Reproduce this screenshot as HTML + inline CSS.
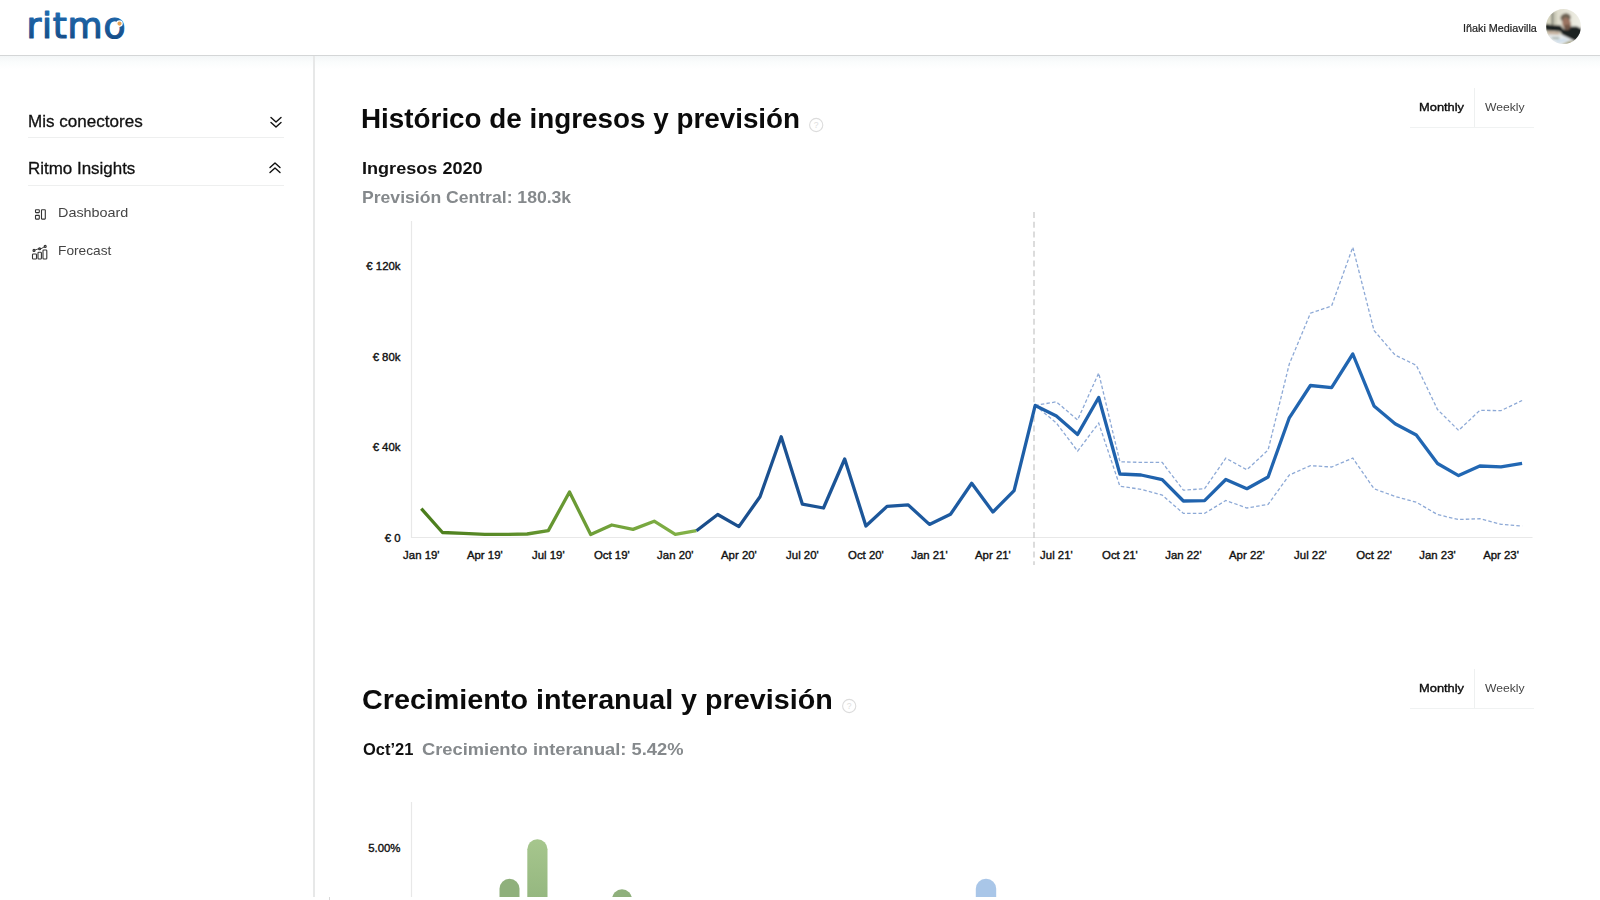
<!DOCTYPE html>
<html lang="es">
<head>
<meta charset="utf-8">
<title>Ritmo Insights</title>
<style>
*{box-sizing:border-box;margin:0;padding:0}
html,body{width:1600px;height:900px;overflow:hidden;background:#fff}
body{position:relative;font-family:"Liberation Sans",sans-serif;color:#111}
.abs{position:absolute;white-space:nowrap;line-height:1;transform-origin:0 0}
.un{color:#222;-webkit-text-stroke:.2px #222}
#header{position:absolute;left:0;top:0;width:1600px;height:56px;background:#fff;border-bottom:1px solid #d4d6d7;z-index:3}
#hshadow{position:absolute;left:0;top:56px;width:1600px;height:13px;background:linear-gradient(#f3f6f7,#fafcfc 45%,#fff);z-index:1}
#sideborder{position:absolute;left:313.2px;top:56px;width:1.8px;height:841px;background:#e7e8e8;z-index:2}
.hr{position:absolute;height:1px;background:#eeefef}
.h1{font-weight:bold;color:#0b0b0b}
.sub{font-weight:bold;color:#111}
.gray{color:#85898c}
.nav{color:#111;-webkit-text-stroke:.3px #111}
.item{color:#444}
.tab{color:#444}
.tab.on{color:#0d0d0d;-webkit-text-stroke:.38px #0d0d0d}
svg{position:absolute;left:0;top:0;overflow:visible}
svg text{font-family:"Liberation Sans",sans-serif}
</style>
</head>
<body>
<div id="header"></div>
<div id="hshadow"></div>
<div id="sideborder"></div>

<!-- logo -->
<svg id="logo" width="160" height="56" viewBox="0 0 160 56" style="z-index:4">
<defs><linearGradient id="lg" x1="0" y1="0" x2="0" y2="1"><stop offset="0" stop-color="#2272b9"/><stop offset="1" stop-color="#12467f"/></linearGradient></defs>
<text x="26.4" y="37.8" letter-spacing="0.75" style="font-family:'DejaVu Sans',sans-serif" font-size="36" fill="url(#lg)" stroke="url(#lg)" stroke-width="1.2" stroke-linejoin="round">ritmo</text>
<circle cx="119.5" cy="23.6" r="2.7" fill="#e8a455" stroke="#fff" stroke-width="1.2"/>
</svg>

<div class="abs un" id="uname" style="left:1462.53px;top:22.86px;font-size:10.8px;transform:scaleX(1.0009);z-index:4;">Iñaki Mediavilla</div>
<svg id="avatar" width="36" height="36" viewBox="0 0 36 36" style="left:1545.9px;top:9.4px;z-index:4">
<defs><clipPath id="ac"><circle cx="17.5" cy="17.6" r="17.5"/></clipPath>
<filter id="ab" x="-10%" y="-10%" width="120%" height="120%"><feGaussianBlur stdDeviation=".85"/></filter>
<linearGradient id="awall" x1="0" y1="0" x2="1" y2="0"><stop offset="0" stop-color="#d2d0b9"/><stop offset=".45" stop-color="#e2e0d2"/><stop offset="1" stop-color="#f1f1ea"/></linearGradient></defs>
<g clip-path="url(#ac)"><g filter="url(#ab)">
<rect x="-2" y="-2" width="40" height="40" fill="url(#awall)"/>
<rect x="5.7" y="3" width="1.6" height="14" fill="#55564e"/>
<rect x="9" y="2" width=".8" height="14" fill="#a5a592"/>
<ellipse cx="19.6" cy="8.6" rx="5.2" ry="4.2" fill="#6d6252" transform="rotate(-12 19.6 8.6)"/>
<ellipse cx="20.6" cy="14.6" rx="4.3" ry="6.2" fill="#9a7361" transform="rotate(-14 20.6 14.6)"/>
<ellipse cx="21.4" cy="18.6" rx="3.4" ry="3" fill="#725849"/>
<path d="M-1 14.8 L6 16 L14.5 16.6 L18 20.4 L22 21.2 L25.5 17.6 L31 17.6 L36 20 L36 29 L29.5 32.2 L16.5 26 L14 22.6 L-1 21.2 Z" fill="#1d2023"/>
<path d="M1.5 22.2 L13.5 23.2 L13.2 25.6 L3 25.2 Z" fill="#c4ab98"/>
<path d="M2 25.5 L13.5 26.2 L16.5 26 L29.5 32.4 L27 36 L4 36 Z" fill="#e7ebee"/>
<path d="M5.4 28.3 L13.6 28.6 L13 30 L6.4 29.8 Z" fill="#8c9b90"/>
<path d="M8 31.4 L19 29.4 L23 31.4 L12 34 Z" fill="#cfdeea"/>
<path d="M15 36 L23.5 31.8 L30 32.4 L28 36 Z" fill="#a8a483"/>
</g></g>
</svg>

<!-- sidebar -->
<div class="abs nav" id="nav1" style="left:28.01px;top:112.78px;font-size:16.5px;transform:scaleX(1.0334);">Mis conectores</div>
<svg width="14" height="14" viewBox="0 0 14 14" style="left:269px;top:115px" fill="none" stroke="#111" stroke-width="1.4" stroke-linecap="round" stroke-linejoin="round"><path d="M2 2.5 L7 7 L12 2.5"/><path d="M2 7.5 L7 12 L12 7.5"/></svg>
<div class="hr" style="left:28px;top:137px;width:256px"></div>
<div class="abs nav" id="nav2" style="left:28.05px;top:160.28px;font-size:16.5px;transform:scaleX(1.0267);">Ritmo Insights</div>
<svg width="14" height="14" viewBox="0 0 14 14" style="left:268px;top:161px" fill="none" stroke="#111" stroke-width="1.4" stroke-linecap="round" stroke-linejoin="round"><path d="M2 6.5 L7 2 L12 6.5"/><path d="M2 11.5 L7 7 L12 11.5"/></svg>
<div class="hr" style="left:28px;top:185px;width:256px"></div>

<svg width="14" height="14" viewBox="0 0 14 14" style="left:34px;top:208px" fill="none" stroke="#333" stroke-width="1.1"><rect x="1.5" y="1.7" width="3.8" height="2.9" rx=".5"/><rect x="1.5" y="7.4" width="3.8" height="3.7" rx=".5"/><rect x="7.5" y="1.7" width="3.8" height="9.4" rx=".5"/></svg>
<div class="abs item" id="it1" style="left:58.12px;top:205.97px;font-size:13.5px;transform:scaleX(1.0651);">Dashboard</div>
<svg width="18" height="16" viewBox="0 0 18 16" style="left:31px;top:244px" fill="none" stroke="#333" stroke-width="1.1"><rect x="1.5" y="10" width="4" height="5" rx=".8"/><rect x="7" y="8.3" width="3.4" height="6.7" rx=".8"/><rect x="12" y="6" width="3.8" height="9" rx=".8"/><path d="M3.5 6.2 L8 4.6 L9.5 5 L13.8 2.6" stroke-width=".9"/><circle cx="3" cy="6.4" r="1"/><circle cx="8.6" cy="4.7" r="1"/><circle cx="14.2" cy="2.4" r="1"/></svg>
<div class="abs item" id="it2" style="left:57.91px;top:243.77px;font-size:13.5px;transform:scaleX(1.0160);">Forecast</div>

<!-- section 1 -->
<div class="abs h1" id="h1a" style="left:361.49px;top:104.72px;font-size:27.5px;transform:scaleX(1.0117);">Histórico de ingresos y previsión</div>
<svg width="16" height="16" viewBox="0 0 16 16" style="left:808px;top:117px"><circle cx="8.2" cy="8" r="6.6" fill="none" stroke="#dcdcdc" stroke-width="1.1"/><text x="8.2" y="10.8" font-size="8.6" text-anchor="middle" fill="#dedede">?</text></svg>
<div class="abs tab on" id="t1a" style="left:1418.57px;top:101.08px;font-size:11.6px;transform:scaleX(1.1099);">Monthly</div>
<div class="abs tab" id="t1b" style="left:1484.54px;top:101.08px;font-size:11.6px;transform:scaleX(1.0451);">Weekly</div>
<div class="abs" style="left:1474px;top:88px;width:1px;height:39px;background:#eef0f0"></div>
<div class="hr" style="left:1410px;top:127px;width:124px;background:#f0f2f2"></div>
<div class="abs sub" id="s1a" style="left:362.26px;top:159.78px;font-size:16.5px;transform:scaleX(1.0961);">Ingresos 2020</div>
<div class="abs sub gray" id="s1b" style="left:362.48px;top:189.33px;font-size:16.5px;transform:scaleX(1.0657);">Previsión Central: 180.3k</div>

<svg id="chart1" width="1600" height="900" viewBox="0 0 1600 900">
<defs>
<linearGradient id="gg" gradientUnits="userSpaceOnUse" x1="421" y1="0" x2="697" y2="0"><stop offset="0" stop-color="#4a7c1c"/><stop offset="1" stop-color="#84b348"/></linearGradient>
<linearGradient id="bg" gradientUnits="userSpaceOnUse" x1="697" y1="0" x2="1522" y2="0"><stop offset="0" stop-color="#1a4d8a"/><stop offset=".2" stop-color="#1c5699"/><stop offset=".45" stop-color="#1f61ab"/><stop offset="1" stop-color="#2268b4"/></linearGradient>
</defs>
<line x1="411.5" y1="221" x2="411.5" y2="538" stroke="#e8e8e8" stroke-width="1.2"/>
<line x1="411" y1="537.5" x2="1532.5" y2="537.5" stroke="#e8e8e8" stroke-width="1.2"/>
<line x1="1034" y1="212" x2="1034" y2="565" stroke="#c8c8c8" stroke-width="1.25" stroke-dasharray="6 3.7"/>
<polyline points="1035.2,405.4 1056.4,401.8 1077.6,420.0 1098.7,373.0 1119.9,461.8 1141.1,462.4 1162.2,462.4 1183.4,490.2 1204.6,488.7 1225.8,458.2 1246.9,469.8 1268.1,450.0 1289.3,364.0 1310.4,313.2 1331.6,306.0 1352.8,247.2 1374.0,330.5 1395.1,355.0 1416.3,365.3 1437.5,409.5 1458.6,430.4 1479.8,410.4 1501.0,410.6 1522.1,400.5" fill="none" stroke="#8da9d6" stroke-width="1.3" stroke-dasharray="3.5 2.2"/>
<polyline points="1035.2,405.4 1056.4,423.0 1077.6,451.1 1098.7,423.1 1119.9,486.2 1141.1,489.3 1162.2,495.1 1183.4,513.4 1204.6,513.4 1225.8,500.5 1246.9,508.0 1268.1,504.4 1289.3,475.0 1310.4,465.6 1331.6,467.0 1352.8,458.1 1374.0,488.7 1395.1,496.5 1416.3,502.2 1437.5,514.6 1458.6,519.5 1479.8,518.7 1501.0,524.3 1522.1,526.0" fill="none" stroke="#8da9d6" stroke-width="1.3" stroke-dasharray="3.5 2.2"/>
<polyline points="421.3,508.6 442.5,532.5 463.6,533.4 484.8,534.4 506.0,534.4 527.1,534.0 548.3,530.6 569.5,492.0 590.7,534.6 611.8,525.0 633.0,529.4 654.2,521.2 675.3,534.3 696.5,530.7" fill="none" stroke="url(#gg)" stroke-width="3.3" stroke-linejoin="round"/>
<polyline points="696.5,530.7 717.7,514.5 738.9,526.6 760.0,496.8 781.2,436.7 802.4,504.2 823.5,508.0 844.7,459.0 865.9,526.0 887.0,506.4 908.2,504.9 929.4,524.4 950.5,514.3 971.7,483.3 992.9,512.0 1014.1,490.7 1035.2,405.4 1056.4,416.0 1077.6,434.4 1098.7,397.5 1119.9,474.0 1141.1,475.0 1162.2,479.6 1183.4,501.0 1204.6,500.7 1225.8,479.5 1246.9,488.7 1268.1,477.0 1289.3,417.8 1310.4,385.5 1331.6,387.6 1352.8,354.0 1374.0,405.9 1395.1,423.7 1416.3,435.0 1437.5,463.5 1458.6,475.6 1479.8,466.0 1501.0,466.9 1522.1,463.4" fill="none" stroke="url(#bg)" stroke-width="3.3" stroke-linejoin="round"/>
<g font-size="11.4" fill="#111" stroke="#111" stroke-width=".38">
<g text-anchor="end">
<text x="400.5" y="270.3">€ 120k</text>
<text x="400.5" y="360.8">€ 80k</text>
<text x="400.5" y="451.3">€ 40k</text>
<text x="400.5" y="541.8">€ 0</text>
</g>
<text x="421.3" y="559" text-anchor="middle">Jan 19'</text>
<text x="484.8" y="559" text-anchor="middle">Apr 19'</text>
<text x="548.3" y="559" text-anchor="middle">Jul 19'</text>
<text x="611.8" y="559" text-anchor="middle">Oct 19'</text>
<text x="675.3" y="559" text-anchor="middle">Jan 20'</text>
<text x="738.9" y="559" text-anchor="middle">Apr 20'</text>
<text x="802.4" y="559" text-anchor="middle">Jul 20'</text>
<text x="865.9" y="559" text-anchor="middle">Oct 20'</text>
<text x="929.4" y="559" text-anchor="middle">Jan 21'</text>
<text x="992.9" y="559" text-anchor="middle">Apr 21'</text>
<text x="1056.4" y="559" text-anchor="middle">Jul 21'</text>
<text x="1119.9" y="559" text-anchor="middle">Oct 21'</text>
<text x="1183.4" y="559" text-anchor="middle">Jan 22'</text>
<text x="1246.9" y="559" text-anchor="middle">Apr 22'</text>
<text x="1310.4" y="559" text-anchor="middle">Jul 22'</text>
<text x="1374.0" y="559" text-anchor="middle">Oct 22'</text>
<text x="1437.5" y="559" text-anchor="middle">Jan 23'</text>
<text x="1501.0" y="559" text-anchor="middle">Apr 23'</text>
</g>
</svg>

<!-- section 2 -->
<div class="abs h1" id="h1b" style="left:361.84px;top:686.32px;font-size:27.5px;transform:scaleX(1.0441);">Crecimiento interanual y previsión</div>
<svg width="16" height="16" viewBox="0 0 16 16" style="left:840.5px;top:698px"><circle cx="8.2" cy="8" r="6.6" fill="none" stroke="#dcdcdc" stroke-width="1.1"/><text x="8.2" y="10.8" font-size="8.6" text-anchor="middle" fill="#dedede">?</text></svg>
<div class="abs tab on" id="t2a" style="left:1418.57px;top:682.08px;font-size:11.6px;transform:scaleX(1.1099);">Monthly</div>
<div class="abs tab" id="t2b" style="left:1484.54px;top:682.08px;font-size:11.6px;transform:scaleX(1.0451);">Weekly</div>
<div class="abs" style="left:1474px;top:669px;width:1px;height:39px;background:#eef0f0"></div>
<div class="hr" style="left:1410px;top:708px;width:124px;background:#f0f2f2"></div>
<div class="abs sub" id="s2a" style="left:362.50px;top:741.33px;font-size:16.5px;transform:scaleX(0.9992);">Oct’21</div>
<div class="abs sub gray" id="s2b" style="left:422.48px;top:741.33px;font-size:16.5px;transform:scaleX(1.1095);">Crecimiento interanual: 5.42%</div>

<svg id="chart2" width="1600" height="900" viewBox="0 0 1600 900">
<defs>
<linearGradient id="barg" x1="0" y1="0" x2="0" y2="1"><stop offset="0" stop-color="#a6c68d"/><stop offset="1" stop-color="#8fb27b"/></linearGradient>
<clipPath id="cut"><rect x="0" y="0" width="1600" height="897"/></clipPath>
</defs>
<g clip-path="url(#cut)">
<line x1="411.5" y1="802" x2="411.5" y2="897" stroke="#e8e8e8" stroke-width="1.2"/>
<rect x="499.5" y="878.8" width="20" height="40" rx="10" fill="#8fb07c"/>
<rect x="527.3" y="839.3" width="20.2" height="80" rx="10" fill="url(#barg)"/>
<rect x="612" y="889.3" width="20" height="40" rx="10" fill="#8fb07c"/>
<rect x="975.8" y="878.8" width="20.4" height="40" rx="10" fill="#a9c6e8"/>
</g>
<text x="400.5" y="851.5" text-anchor="end" font-size="11.4" fill="#111" stroke="#111" stroke-width=".38">5.00%</text>
</svg>

<div class="abs" style="left:329px;top:897px;width:1px;height:3px;background:#d9d9d9"></div>
</body>
</html>
